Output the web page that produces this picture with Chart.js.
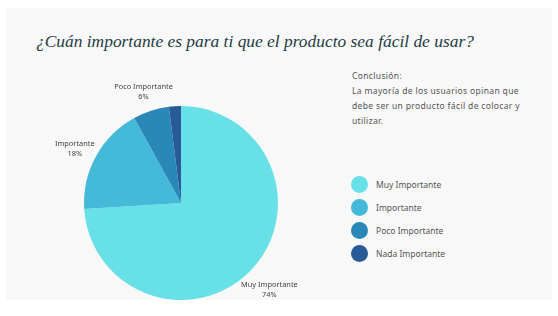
<!DOCTYPE html>
<html>
<head>
<meta charset="utf-8">
<script src="https://cdn.jsdelivr.net/npm/chart.js@4.4.1/dist/chart.umd.min.js"></script>
<style>
  html, body { margin: 0; padding: 0; background: #ffffff; }
  body { width: 558px; height: 316px; position: relative; overflow: hidden; font-family: 'Noto Sans', sans-serif; }
  .card { position: absolute; left: 6px; top: 8px; width: 546px; height: 292px; background: #f8f8f8; }
  #title { position: absolute; left: 36px; top: 29px; line-height: 24px; font-family: 'Liberation Serif', serif; font-style: italic; font-size: 21px; color: #1f3c46; white-space: nowrap; }
  #note { position: absolute; left: 352px; top: 68px; width: 200px; font-size: 8.5px; letter-spacing: 0.35px; line-height: 15px; color: #555; }
  #legend { position: absolute; left: 351px; top: 173px; }
  .item { height: 23px; display: flex; align-items: center; font-size: 8.5px; color: #555; }
  .dot { width: 17px; height: 17px; border-radius: 50%; margin-right: 8px; }
  #wrap { position: absolute; left: 0; top: 0; width: 558px; height: 316px; }
</style>
</head>
<body>
<div class="card"></div>
<div id="title">¿Cuán importante es para ti que el producto sea fácil de usar?</div>
<div id="note">Conclusión:<br>La mayoría de los usuarios opinan que<br>debe ser un producto fácil de colocar y<br>utilizar.</div>
<div id="legend"></div>
<div id="wrap"><canvas id="pie"></canvas></div>
<script>
const labels = ['Muy Importante', 'Importante', 'Poco Importante', 'Nada Importante'];
const values = [74, 18, 6, 2];
const colors = ['#67e1e7', '#45b9d8', '#2a88b8', '#275a96'];
const showLabel = [true, true, true, false];

// fit the title to the width it has in the picture
const title = document.getElementById('title');
const w = title.getBoundingClientRect().width;
title.style.fontSize = (21 * 438 / w) + 'px';

const legend = document.getElementById('legend');
labels.forEach((l, i) => {
  const row = document.createElement('div');
  row.className = 'item';
  row.innerHTML = `<span class="dot" style="background:${colors[i]}"></span>${l}`;
  legend.appendChild(row);
});

const outsideLabels = {
  id: 'outsideLabels',
  afterDraw(chart) {
    const ctx = chart.ctx;
    const meta = chart.getDatasetMeta(0);
    ctx.save();
    ctx.font = '7.4px "Noto Sans"';
    ctx.fillStyle = '#444';
    ctx.textAlign = 'center';
    ctx.textBaseline = 'middle';
    meta.data.forEach((arc, i) => {
      if (!showLabel[i]) return;
      const mid = (arc.startAngle + arc.endAngle) / 2;
      const r = arc.outerRadius * 1.25;
      const x = arc.x + Math.cos(mid) * r;
      const y = arc.y + Math.sin(mid) * r + 4;
      ctx.fillText(labels[i], x, y - 5);
      ctx.fillText(values[i] + '%', x, y + 5);
    });
    ctx.restore();
  }
};

new Chart(document.getElementById('pie'), {
  type: 'pie',
  data: {
    labels,
    datasets: [{ data: values, backgroundColor: colors, borderWidth: 0 }]
  },
  options: {
    responsive: true,
    maintainAspectRatio: false,
    animation: false,
    layout: { padding: { left: 84, right: 280, top: 106, bottom: 16 } },
    plugins: { legend: { display: false }, tooltip: { enabled: false } }
  },
  plugins: [outsideLabels]
});
</script>
</body>
</html>
